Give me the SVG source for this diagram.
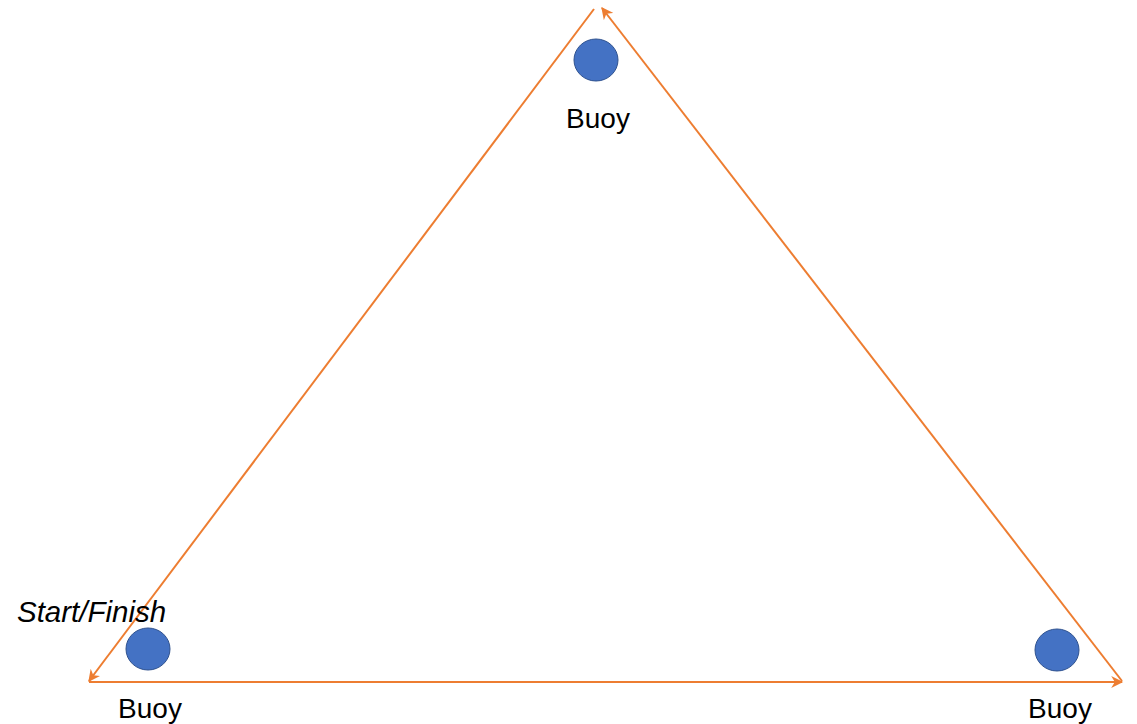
<svg xmlns="http://www.w3.org/2000/svg" width="1137" height="724" viewBox="0 0 1137 724">
<style>
.edge{stroke:#ED7D31;stroke-width:2;fill:none}
.buoy{fill:#4472C4;stroke:#2F528F;stroke-width:1}
.lbl{font-family:"Liberation Sans",Arial,sans-serif;font-size:28px;fill:#000}
.it{font-style:italic;font-size:29.5px}
</style>
<defs>
<marker id="arr" viewBox="0 0 10 10" refX="9" refY="5" markerWidth="13" markerHeight="12" markerUnits="userSpaceOnUse" orient="auto">
<path d="M0,0 L10,5 L0,10 L3,5 z" fill="#ED7D31"/>
</marker>
</defs>
<rect width="1137" height="724" fill="#fff"/>
<g id="connectors">
<line class="edge" x1="89" y1="682" x2="1122" y2="682" marker-end="url(#arr)"/>
<line class="edge" x1="1122" y1="681" x2="602" y2="8" marker-end="url(#arr)"/>
<line class="edge" x1="594" y1="9" x2="89" y2="681" marker-end="url(#arr)"/>
</g>
<g id="buoy-top">
<ellipse class="buoy" cx="596" cy="60" rx="22" ry="21"/>
<text class="lbl" x="598" y="128" text-anchor="middle">Buoy</text>
</g>
<g id="buoy-start">
<ellipse class="buoy" cx="148" cy="649" rx="22" ry="21"/>
<text class="lbl it" x="17" y="622">Start/Finish</text>
<text class="lbl" x="150" y="718" text-anchor="middle">Buoy</text>
</g>
<g id="buoy-right">
<ellipse class="buoy" cx="1057" cy="650" rx="22" ry="21"/>
<text class="lbl" x="1060" y="718" text-anchor="middle">Buoy</text>
</g>
</svg>
